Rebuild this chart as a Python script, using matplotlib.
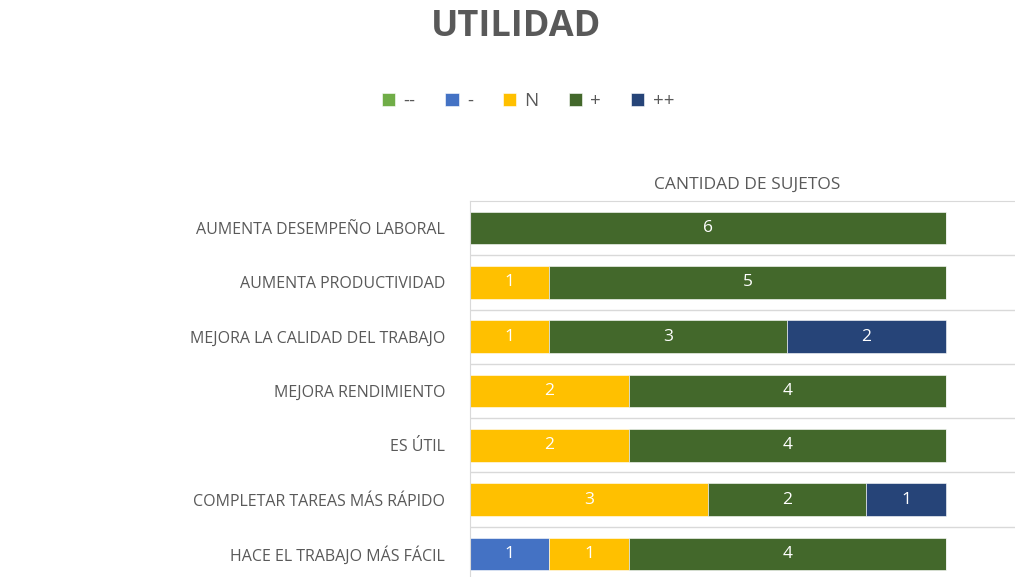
import matplotlib.pyplot as plt
import numpy as np

# datos
categorias = ["AUMENTA DESEMPEÑO LABORAL", "AUMENTA PRODUCTIVIDAD",
              "MEJORA LA CALIDAD DEL TRABAJO", "MEJORA RENDIMIENTO", "ES ÚTIL",
              "COMPLETAR TAREAS MÁS RÁPIDO", "HACE EL TRABAJO MÁS FÁCIL"]
series = ["--", "-", "N", "+", "++"]
muy_neg = [0, 0, 0, 0, 0, 0, 0]
neg = [0, 0, 0, 0, 0, 0, 1]
neutro = [0, 1, 1, 2, 2, 3, 1]
pos = [6, 5, 3, 4, 4, 2, 4]
muy_pos = [0, 0, 2, 0, 0, 1, 0]
valores = [muy_neg, neg, neutro, pos, muy_pos]
colores = ["#70AD47", "#4472C4", "#FFC000", "#43682B", "#264478"]

gris = "#595959"
plt.rcParams['font.family'] = ['Open Sans', 'DejaVu Sans']

fig = plt.figure(figsize=(10.15, 5.77), dpi=100)
W, H = 1015, 577
ax = fig.add_axes([470 / W, -4 / H, 555 / W, 380 / H])

y = np.arange(len(categorias))
izq = np.zeros(len(categorias))
for nombre, vals, col in zip(series, valores, colores):
    vals = np.array(vals, dtype=float)
    barras = ax.barh(y, vals, left=izq, height=0.6, color=col, label=nombre,
                     edgecolor="white", linewidth=0.4)
    for b, v in zip(barras, vals):
        if v > 0:
            ax.text(b.get_x() + b.get_width() / 2, b.get_y() + b.get_height() / 2,
                    f"{int(v)}", ha="center", va="center", color="white", fontsize=12.5)
    izq += vals

ax.set_xlim(0, 7)
ax.set_ylim(6.5, -0.5)
ax.set_yticks(y)
ax.set_yticklabels(categorias, fontsize=11.5, color=gris)
ax.tick_params(axis="y", length=0, pad=18)
ax.set_xticks([])
ax.set_yticks(np.arange(0.5, 6.5, 1), minor=True)
ax.tick_params(axis="y", which="minor", length=0)
ax.grid(axis="y", which="minor", color="#D9D9D9", linewidth=1)
ax.set_axisbelow(True)
for s in ["right", "bottom"]:
    ax.spines[s].set_visible(False)
for s in ["top", "left"]:
    ax.spines[s].set_color("#D9D9D9")

ax.xaxis.set_label_position("top")
ax.set_xlabel("CANTIDAD DE SUJETOS", fontsize=12.5, color=gris, labelpad=9)

fig.text(516 / W, 1 - 27 / H, "UTILIDAD", ha="center", va="center",
         fontsize=26, fontweight="bold", color=gris)

leg = fig.legend(loc="center", bbox_to_anchor=(528 / W, 1 - 101 / H), ncol=5,
                 frameon=False, fontsize=13.5, handlelength=0.7, handleheight=0.7,
                 handletextpad=0.45, columnspacing=1.6)
for t in leg.get_texts():
    t.set_color(gris)

fig.savefig("out.png", dpi=100)
